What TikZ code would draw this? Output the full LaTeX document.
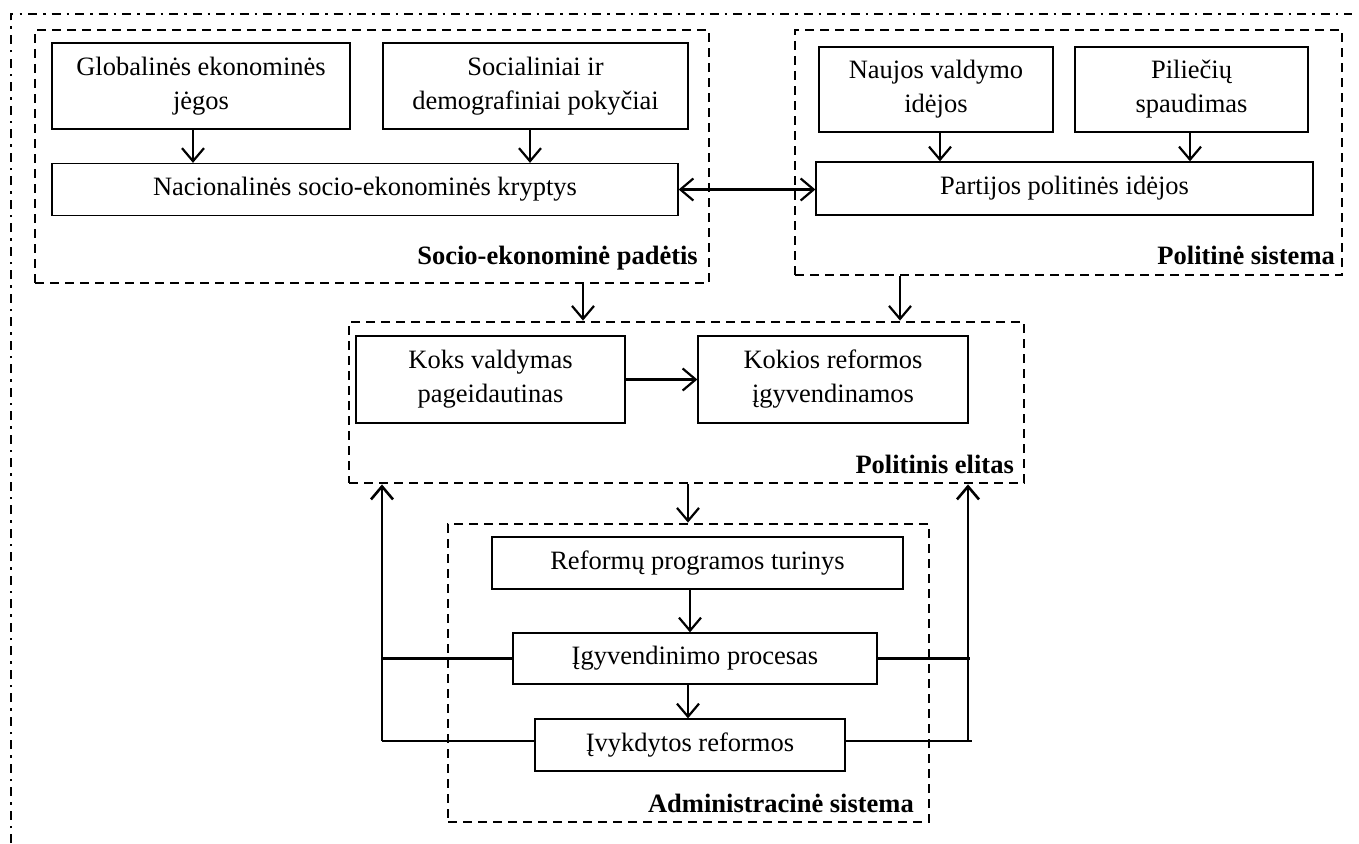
\documentclass[tikz,border=0pt]{standalone}
\usepackage{fontspec}
\setmainfont{Liberation Serif}
\usetikzlibrary{arrows.meta}
\begin{document}
\begin{tikzpicture}[x=1pt,y=-1pt,
  txt/.style={font=\fontsize{26.5}{34}\selectfont},
  box/.style={txt, draw, line width=1.3pt, align=center, inner sep=0pt},
  grp/.style={draw, line width=2.8pt, dash pattern=on 9pt off 6pt, inner sep=0pt},
  lab/.style={txt, font=\fontsize{26.5}{34}\selectfont\bfseries, inner sep=0pt},
  arr/.style={line width=2.2pt, -{Straight Barb[length=13pt,width=22pt]}},
  darr/.style={line width=2.2pt, {Straight Barb[length=13pt,width=22pt]}-{Straight Barb[length=13pt,width=22pt]}},
  fb/.style={line width=2.6pt},
  frame/.style={line width=2.8pt, dash pattern=on 9pt off 6pt on 2.5pt off 6pt}]
\useasboundingbox (0,0) rectangle (1359,843);

% outer dash-dot frame (top and left edges)
\draw[frame] (11,843) -- (11,14) -- (1352,14);

% groups
\node[grp, minimum width=674, minimum height=253] (g1) at (372,156.5) {};
\node[grp, minimum width=547, minimum height=245] (g2) at (1068.5,152.5) {};
\node[grp, minimum width=675, minimum height=161] (g3) at (686.5,402.5) {};
\node[grp, minimum width=481, minimum height=298] (g4) at (688.5,673) {};

% group titles
\node[lab, anchor=base east] (l1) at (698,264) {Socio-ekonominė padėtis};
\node[lab, anchor=base east] (l2) at (1335,264) {Politinė sistema};
\node[lab, anchor=base east] (l3) at (1014,473) {Politinis elitas};
\node[lab, anchor=base east] (l4) at (914,812) {Administracinė sistema};

% socio-economic situation
\node[box, minimum width=298, minimum height=86] (glob) at (201,86) {Globalinės ekonominės\\jėgos};
\node[box, minimum width=305, minimum height=86] (soc) at (535.5,86) {Socialiniai ir\\demografiniai pokyčiai};
\node[box, minimum width=626, minimum height=52] (nac) at (365,189.5) {Nacionalinės socio-ekonominės kryptys};

% political system
\node[box, minimum width=234, minimum height=85] (nauj) at (936,89.5) {Naujos valdymo\\idėjos};
\node[box, minimum width=233, minimum height=85] (pil) at (1191.5,89.5) {Piliečių\\spaudimas};
\node[box, minimum width=497, minimum height=53] (part) at (1064.5,188.5) {Partijos politinės idėjos};

% political elite
\node[box, minimum width=269, minimum height=87] (koks) at (490.5,379.5) {Koks valdymas\\pageidautinas};
\node[box, minimum width=270, minimum height=87] (kokios) at (833,379.5) {Kokios reformos\\įgyvendinamos};

% administrative system
\node[box, minimum width=411, minimum height=52] (prog) at (697.5,563) {Reformų programos turinys};
\node[box, minimum width=364, minimum height=51] (proc) at (695,658.5) {Įgyvendinimo procesas};
\node[box, minimum width=310, minimum height=52] (done) at (690,745) {Įvykdytos reformos};

% arrows inside groups
\draw[arr] ([xshift=-8]glob.south) -- ([xshift=-8]glob.south |- nac.north);
\draw[arr] ([xshift=-5.5]soc.south) -- ([xshift=-5.5]soc.south |- nac.north);
\draw[arr] ([xshift=4]nauj.south) -- ([xshift=4]nauj.south |- part.north);
\draw[arr] ([xshift=-1.5]pil.south) -- ([xshift=-1.5]pil.south |- part.north);
\draw[darr] (nac.east) -- (nac.east -| part.west);
\draw[arr] (koks.east) -- (kokios.west);
\draw[arr] ([xshift=-7.5]prog.south) -- ([xshift=-7.5]prog.south |- proc.north);
\draw[arr] ([xshift=-7]proc.south) -- ([xshift=-7]proc.south |- done.north);

% arrows between groups
\draw[arr] ([xshift=211]g1.south) -- ([xshift=211]g1.south |- g3.north);
\draw[arr] ([xshift=-168.5]g2.south) -- ([xshift=-168.5]g2.south |- g3.north);
\draw[arr] ([xshift=1.5]g3.south) -- ([xshift=1.5]g3.south |- g4.north);

% feedback to the political elite
\coordinate (lb) at (382,741);
\coordinate (rb) at (968,741);
\draw[fb] (proc.west) -- (proc.west -| lb);
\draw[fb] ([yshift=4]done.west) -- (lb);
\draw[fb] (proc.east) -- ([xshift=2]proc.east -| rb);
\draw[fb] ([yshift=4]done.east) -- ([xshift=4]rb);
\draw[arr, line width=2.6pt] (lb) -- (lb |- g3.south);
\draw[arr, line width=2.6pt] (rb) -- (rb |- g3.south);
\end{tikzpicture}
\end{document}
